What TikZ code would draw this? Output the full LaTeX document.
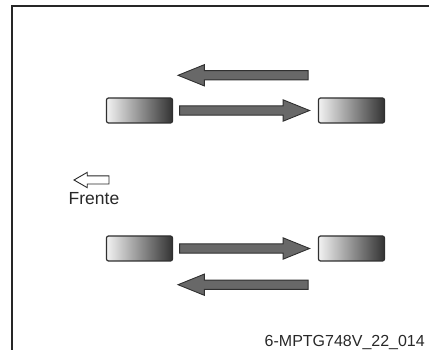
\documentclass[tikz,border=0pt]{standalone}
\usepackage{fontspec}
\setmainfont{Liberation Sans}
\usetikzlibrary{positioning,shapes.arrows}
\definecolor{shaftgray}{RGB}{104,104,104}
\definecolor{rimgray}{RGB}{48,48,48}
\definecolor{inkgray}{RGB}{40,40,40}

\begin{document}
\begin{tikzpicture}[x=1pt,y=1pt,
  pad/.style={rectangle,rounded corners=2pt,minimum width=66pt,minimum height=25pt,
              draw=rimgray,line width=1.2pt,left color=black!5,right color=black!80},
  fatarrow/.style={single arrow,draw=rimgray,fill=shaftgray,line width=0.9pt,
              minimum height=130pt,inner sep=4.2pt,single arrow head extend=6pt,
              single arrow tip angle=44},
  backarrow/.style={fatarrow,shape border rotate=180,xshift=10pt},
  hollowarrow/.style={single arrow,draw=inkgray,fill=white,line width=0.9pt,
              minimum height=35pt,inner sep=3.6pt,single arrow head extend=3.6pt,
              single arrow tip angle=60,shape border rotate=180},
  frame/.style={draw=black!85,line width=1.6pt}
]
\useasboundingbox (0,0) rectangle (429,-350);
\draw[frame] (12,-352) |- (431,-6);
% upper pair
\node[pad] (ltop) at (139.5,-110.5) {};
\node[pad] (rtop) at (351.5,-110.5) {};
\node[fatarrow,right=6pt of ltop] (pushtop) {};
\node[backarrow,above=25pt of pushtop] (pulltop) {};
% lower pair
\node[pad] (lbot) at (139.5,-248.5) {};
\node[pad] (rbot) at (351.5,-248.5) {};
\node[fatarrow,right=6pt of lbot] (pushbot) {};
\node[backarrow,below=26pt of pushbot] (pullbot) {};
% front marker
\node[hollowarrow] (front) at (95,-180) {};
\node[below=8pt of front,xshift=-1pt,inner sep=0pt,text=inkgray,
      font=\fontsize{17.5}{20}\selectfont] (frontlbl) {Frente};
\node[anchor=base east,inner sep=0pt,text=inkgray,
      font=\fontsize{16}{19}\selectfont] (figid) at (425,-346.5) {6-MPTG748V\_22\_014};
\end{tikzpicture}
\end{document}
